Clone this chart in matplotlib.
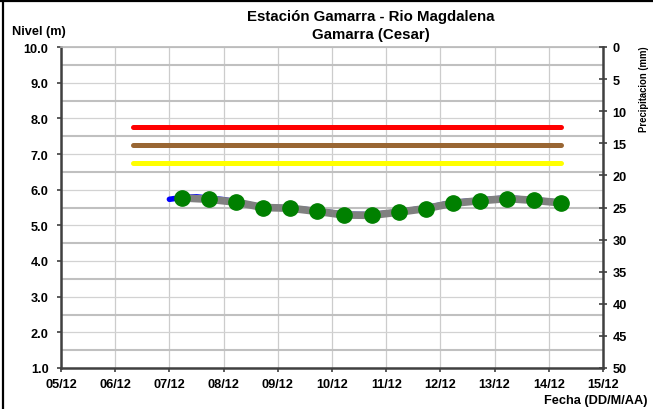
import matplotlib
matplotlib.use("Agg")
import matplotlib.pyplot as plt
from matplotlib.lines import Line2D
from matplotlib import font_manager

# ---- data ----
day_ticks = [5, 6, 7, 8, 9, 10, 11, 12, 13, 14, 15]
day_labels = ["05/12", "06/12", "07/12", "08/12", "09/12", "10/12",
              "11/12", "12/12", "13/12", "14/12", "15/12"]

# 12-hourly observations (green markers on grey line)
obs_t = [7.23, 7.73, 8.23, 8.73, 9.23, 9.73, 10.23, 10.73, 11.23, 11.73,
         12.23, 12.73, 13.23, 13.73, 14.23]
obs_lvl = [5.77, 5.73, 5.65, 5.50, 5.48, 5.39, 5.29, 5.28, 5.37, 5.47,
           5.62, 5.69, 5.75, 5.70, 5.63]

# continuous sensor record (blue)
cont_t = [7.0, 7.23, 7.5, 7.73, 8.0, 8.23, 8.5, 8.73, 9.23, 9.73, 10.23,
          10.73, 11.23, 11.73, 12.23, 12.73, 13.23, 13.73, 14.23]
cont_lvl = [5.73, 5.78, 5.80, 5.76, 5.72, 5.66, 5.58, 5.51, 5.49, 5.41, 5.31,
            5.30, 5.38, 5.49, 5.64, 5.71, 5.77, 5.72, 5.64]

# alert thresholds
thr_t = [6.33, 14.23]
red_lvl = 7.75
brown_lvl = 7.25
yellow_lvl = 6.75

left_ticks = [1, 2, 3, 4, 5, 6, 7, 8, 9, 10]
right_ticks = [0, 5, 10, 15, 20, 25, 30, 35, 40, 45, 50]

# ---- figure ----
plt.rcParams['font.family'] = ['Liberation Sans', 'DejaVu Sans']
fig = plt.figure(figsize=(6.53, 4.10), dpi=100)
ax = fig.add_axes([61/653, 1-369/410, (603-61)/653, (369-48)/410])

ax.set_xlim(5, 15)
ax.set_ylim(1, 10)

# grid
for d in day_ticks:
    ax.axvline(d, color="#cccccc", lw=0.9, zorder=0)
for v in left_ticks:
    ax.axhline(v, color="#d2d2d2", lw=0.9, zorder=0)
for v in [1.5, 2.5, 3.5, 4.5, 5.5, 6.5, 7.5, 8.5, 9.5]:
    ax.axhline(v, color="#c0c0c0", lw=1.5, zorder=0)

# thresholds
ax.plot(thr_t, [red_lvl, red_lvl], color="#ff0000", lw=3.6, solid_capstyle="round", zorder=2)
ax.plot(thr_t, [brown_lvl, brown_lvl], color="#996633", lw=3.6, solid_capstyle="round", zorder=2)
ax.plot(thr_t, [yellow_lvl, yellow_lvl], color="#ffff00", lw=3.6, solid_capstyle="round", zorder=2)

# series
ax.plot(cont_t, cont_lvl, color="#0000ff", lw=4.0, solid_capstyle="round", zorder=3)
ax.plot(obs_t, obs_lvl, color="#808080", lw=5.5, zorder=4)
ax.plot(obs_t, obs_lvl, ls="none", marker="o", ms=11, color="#008000", zorder=5)

ax.set_xticks(day_ticks)
ax.set_xticklabels(day_labels)
ax.set_yticks(left_ticks)
ax.set_yticklabels([f"{v:.1f}" for v in left_ticks])
ax.tick_params(axis="y", labelsize=9.2, length=3, width=1.2, color="#404040", pad=6)
ax.tick_params(axis="x", labelsize=9.2, length=3, width=1.2, color="#404040", pad=4)
for lab in ax.get_xticklabels() + ax.get_yticklabels():
    lab.set_fontweight("bold")

for s in ["left", "bottom"]:
    ax.spines[s].set_color("#404040")
    ax.spines[s].set_linewidth(1.8)
ax.spines["top"].set_color("#b8b8b8")
ax.spines["top"].set_linewidth(1.2)
ax.spines["right"].set_visible(False)

ax2 = ax.twinx()
ax2.set_ylim(50, 0)
ax2.set_yticks(right_ticks)
ax2.set_yticklabels([str(v) for v in right_ticks])
ax2.tick_params(axis="y", labelsize=9.2, length=6, width=1.2, color="#404040",
                direction="inout", pad=4)
for lab in ax2.get_yticklabels():
    lab.set_fontweight("bold")
for s in ["left", "bottom", "top"]:
    ax2.spines[s].set_visible(False)
ax2.spines["right"].set_color("#404040")
ax2.spines["right"].set_linewidth(1.8)

# texts
fig.text(371/653, 1-17/410, "Estación Gamarra - Rio Magdalena", ha="center", va="center",
         fontsize=10.8, fontweight="bold")
fig.text(371/653, 1-35/410, "Gamarra (Cesar)", ha="center", va="center",
         fontsize=10.8, fontweight="bold")
fig.text(12/653, 1-32/410, "Nivel (m)", ha="left", va="center", fontsize=9.2, fontweight="bold")
fig.text(648/653, 1-401/410, "Fecha (DD/M/AA)", ha="right", va="center", fontsize=9.2,
         fontweight="bold")

names = {f.name for f in font_manager.fontManager.ttflist}
prec_family = (["Liberation Sans Narrow"] if "Liberation Sans Narrow" in names else []) + \
              ["Liberation Sans", "DejaVu Sans"]
prec = fig.text(644/653, 1-89/410, "Precipitacion (mm)", ha="center", va="center",
                rotation=90, fontsize=9, fontweight="bold", family=prec_family)
# fit the rotated label to roughly the length it has in the reference
renderer = fig.canvas.get_renderer()
h = prec.get_window_extent(renderer).height
prec.set_fontsize(9 * 86 / h)

# outer frame lines
fig.add_artist(Line2D([0, 1], [1-2/410, 1-2/410], color="black", lw=1.6, transform=fig.transFigure))
fig.add_artist(Line2D([3/653, 3/653], [0, 1], color="black", lw=1.6, transform=fig.transFigure))

fig.savefig("out.png", dpi=100)
